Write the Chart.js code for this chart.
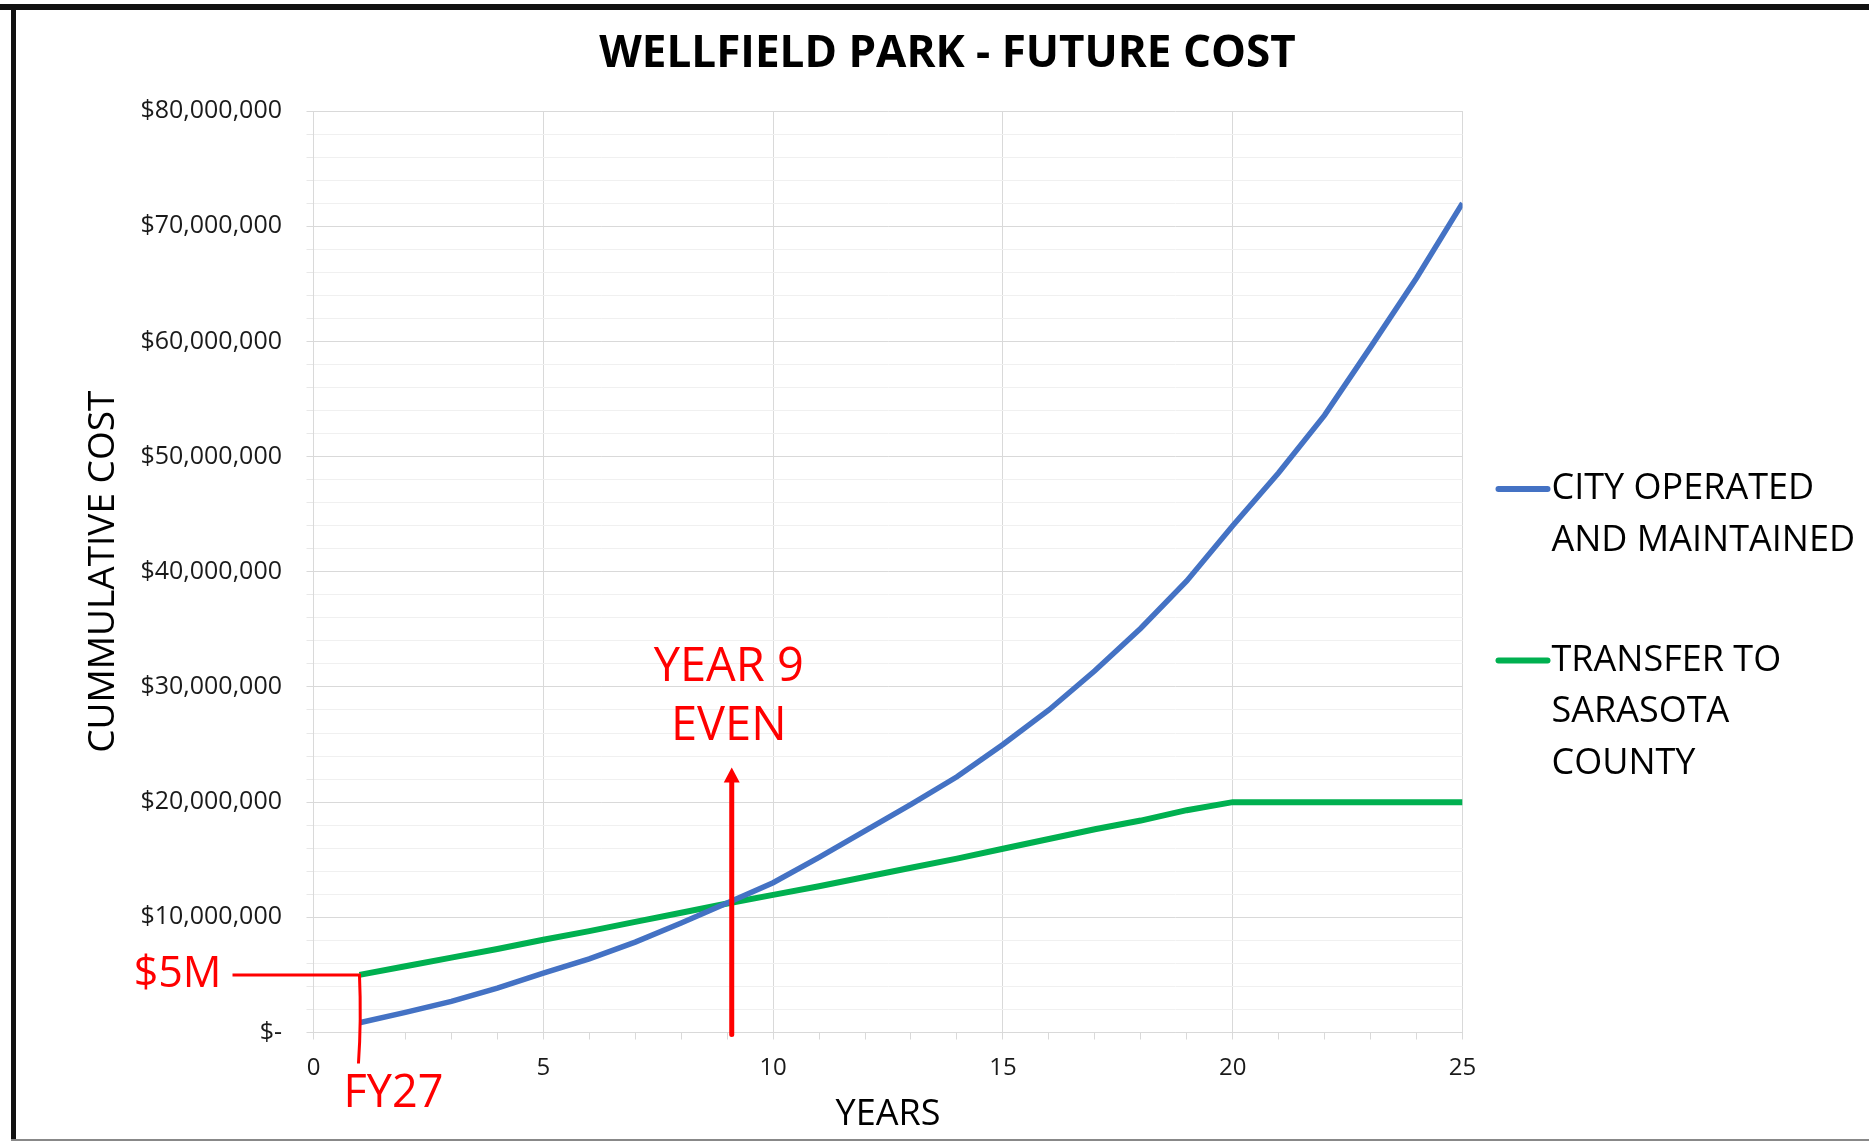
<!DOCTYPE html>
<html>
<head>
<meta charset="utf-8">
<title>Wellfield Park - Future Cost</title>
<script src="https://cdn.jsdelivr.net/npm/chart.js@4.4.1/dist/chart.umd.min.js"></script>
<style>
  html, body { margin: 0; padding: 0; background: #fff; overflow: hidden; }
  #wrap { position: relative; width: 1869px; height: 1141px; }
  #myChart { position: absolute; left: 0; top: 0; }
  .frame { position: absolute; background: #111; }
</style>
</head>
<body>
<div id="wrap">
  <canvas id="myChart" width="1869" height="1141"></canvas>
  <div class="frame" style="left:0;top:4px;width:1869px;height:6px;"></div>
  <div class="frame" style="left:11px;top:4px;width:5px;height:1137px;"></div>
  <div class="frame" style="left:11px;top:1139px;width:1858px;height:2px;background:#888;"></div>
</div>
<script>
// values
const chartTitle = 'WELLFIELD PARK - FUTURE COST'
const xTitle = 'YEARS'
const yTitle = 'CUMMULATIVE COST'

const years = [1, 2, 3, 4, 5, 6, 7, 8, 9, 10, 11, 12, 13, 14, 15, 16, 17, 18, 19, 20, 21, 22, 23, 24, 25]

const cityCost = [850000, 1750000, 2700000, 3850000, 5150000, 6400000, 7850000, 9500000, 11250000, 13000000,
  15200000, 17500000, 19800000, 22200000, 25000000, 28000000, 31400000, 35100000, 39200000, 44000000,
  48600000, 53600000, 59500000, 65500000, 72000000]

const countyCost = [5000000, 5750000, 6500000, 7250000, 8050000, 8800000, 9600000, 10400000, 11200000, 11950000,
  12700000, 13500000, 14300000, 15100000, 15950000, 16800000, 17650000, 18400000, 19300000, 20000000,
  20000000, 20000000, 20000000, 20000000, 20000000]

const seriesNames = ['CITY OPERATED AND MAINTAINED', 'TRANSFER TO SARASOTA COUNTY']
const legendLines = [['CITY OPERATED', 'AND MAINTAINED'], ['TRANSFER TO', 'SARASOTA', 'COUNTY']]
const seriesColors = ['#4472C4', '#00B050']

// red hand-drawn notes
const startYear = 1
const startValue = 5000000
const startLabel = '$5M'
const fyLabel = 'FY27'
const evenYear = 9.1
const evenArrowTop = 23000000
const evenLines = ['YEAR 9', 'EVEN']

Chart.defaults.font.family = "'Open Sans', sans-serif"

function money(v) {
  if (v === 0) return '$-'
  return '$' + v.toLocaleString('en-US')
}

const notes = {
  id: 'notes',
  afterDraw(chart) {
    const {ctx, chartArea: a, scales: {x, y}} = chart
    ctx.save()

    // title
    ctx.fillStyle = '#000'
    ctx.textAlign = 'center'
    ctx.textBaseline = 'middle'
    ctx.font = 'bold 44px "Open Sans"'
    ctx.fillText(chartTitle, chart.width / 2 + 13, 54)

    // legend at the right
    const legendY = [a.top + 378, a.top + 549.5]
    ctx.textAlign = 'left'
    ctx.font = '36px "Open Sans"'
    legendLines.forEach((lines, i) => {
      ctx.strokeStyle = seriesColors[i]
      ctx.lineWidth = 6
      ctx.lineCap = 'round'
      ctx.beginPath()
      ctx.moveTo(a.right + 36, legendY[i])
      ctx.lineTo(a.right + 85, legendY[i])
      ctx.stroke()
      ctx.fillStyle = '#000'
      lines.forEach((t, j) => ctx.fillText(t, a.right + 89, legendY[i] + j * 51.5))
    })

    // $5M bracket
    ctx.strokeStyle = '#ff0000'
    ctx.fillStyle = '#ff0000'
    ctx.lineCap = 'butt'
    ctx.lineWidth = 3
    const x1 = x.getPixelForValue(startYear)
    const y5 = y.getPixelForValue(startValue)
    ctx.beginPath()
    ctx.moveTo(a.left - 81, y5)
    ctx.lineTo(x1, y5)
    ctx.quadraticCurveTo(x1 + 2, y5 + 45, x1 - 1, a.bottom + 31)
    ctx.stroke()
    ctx.font = '43px "Open Sans"'
    ctx.textAlign = 'right'
    ctx.fillText(startLabel, a.left - 92, y5)
    ctx.textAlign = 'center'
    ctx.font = '45px "Open Sans"'
    ctx.fillText(fyLabel, x1 + 34, a.bottom + 61.5)

    // year 9 arrow
    const xa = x.getPixelForValue(evenYear)
    const tip = y.getPixelForValue(evenArrowTop)
    ctx.lineWidth = 5
    ctx.lineCap = 'round'
    ctx.beginPath()
    ctx.moveTo(xa, a.bottom + 2)
    ctx.lineTo(xa, tip + 12)
    ctx.stroke()
    ctx.beginPath()
    ctx.moveTo(xa, tip)
    ctx.lineTo(xa - 8, tip + 15)
    ctx.lineTo(xa + 8, tip + 15)
    ctx.closePath()
    ctx.fill()
    ctx.font = '47px "Open Sans"'
    ctx.fillText(evenLines[0], xa - 3, tip - 100)
    ctx.fillText(evenLines[1], xa - 3, tip - 41)

    ctx.restore()
  }
}

const ctx = document.getElementById('myChart')

new Chart(ctx, {
  type: 'line',
  data: {
    datasets: [
      {
        label: seriesNames[0],
        data: years.map((yr, i) => ({x: yr, y: cityCost[i]})),
        borderColor: seriesColors[0],
        backgroundColor: seriesColors[0],
        borderWidth: 5.5,
        pointRadius: 0,
        tension: 0
      },
      {
        label: seriesNames[1],
        data: years.map((yr, i) => ({x: yr, y: countyCost[i]})),
        borderColor: seriesColors[1],
        backgroundColor: seriesColors[1],
        borderWidth: 6,
        pointRadius: 0,
        tension: 0
      }
    ]
  },
  options: {
    responsive: false,
    animation: false,
    layout: {padding: {top: 111, right: 406.5, bottom: 0, left: 0}},
    plugins: {
      legend: {display: false},
      title: {display: false},
      tooltip: {enabled: false}
    },
    scales: {
      x: {
        type: 'linear',
        min: 0,
        max: 25,
        afterFit: s => { s.height = 108.5 },
        border: {color: '#d9d9d9'},
        grid: {
          color: c => (c.tick && c.tick.value % 5 === 0) ? '#d9d9d9' : 'rgba(0,0,0,0)',
          tickColor: '#d9d9d9',
          tickLength: 7
        },
        ticks: {
          stepSize: 1,
          autoSkip: false,
          maxRotation: 0,
          padding: 14,
          color: '#1a1a1a',
          font: {size: 24},
          callback: v => v % 5 === 0 ? v : ''
        },
        title: {
          display: true,
          text: xTitle,
          color: '#000',
          font: {size: 36},
          padding: {top: 0, bottom: 4.4}
        }
      },
      y: {
        min: 0,
        max: 80000000,
        afterFit: s => { s.width = 313.5 },
        border: {color: '#d9d9d9'},
        grid: {
          color: c => (c.tick && c.tick.value % 10000000 === 0) ? '#d9d9d9' : '#f0f0f0',
          tickColor: c => (c.tick && c.tick.value % 10000000 === 0) ? '#d9d9d9' : '#e8e8e8',
          tickLength: 7
        },
        ticks: {
          stepSize: 2000000,
          autoSkip: false,
          padding: 24.5,
          color: '#1a1a1a',
          font: {size: 25},
          callback: v => v % 10000000 === 0 ? money(v) : ''
        },
        title: {
          display: true,
          text: yTitle,
          color: '#000',
          font: {size: 37},
          padding: {top: 81.5, bottom: 0}
        }
      }
    }
  },
  plugins: [notes]
})
</script>
</body>
</html>
